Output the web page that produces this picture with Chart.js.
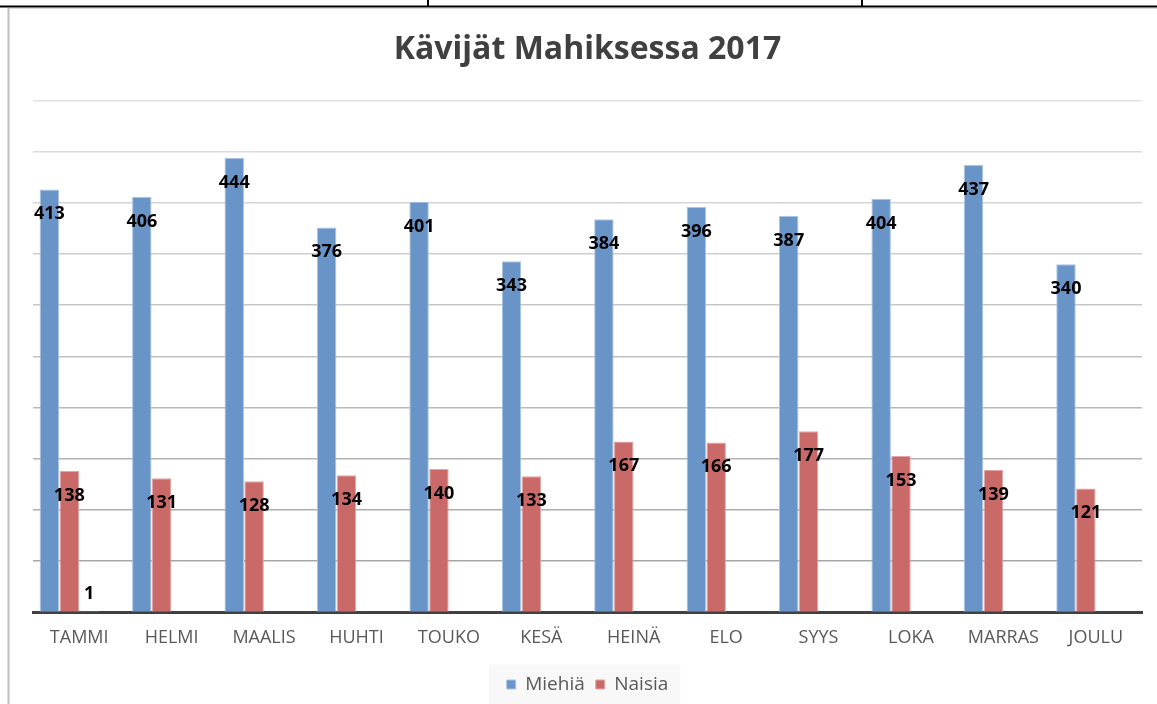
<!DOCTYPE html>
<html lang="fi">
<head>
<meta charset="utf-8">
<title>Kävijät Mahiksessa 2017</title>
<script src="https://cdn.jsdelivr.net/npm/chart.js@4/dist/chart.umd.min.js"></script>
<style>
  html, body { margin: 0; padding: 0; background: #ffffff; }
  #wrap { position: relative; width: 1157px; height: 704px; }
</style>
</head>
<body>
<div id="wrap"><canvas id="kavijat"></canvas></div>
<script>
// Kuukaudet ja kävijämäärät
const kuukaudet = ["TAMMI", "HELMI", "MAALIS", "HUHTI", "TOUKO", "KESÄ", "HEINÄ", "ELO", "SYYS", "LOKA", "MARRAS", "JOULU"];
const miehia = [413, 406, 444, 376, 401, 343, 384, 396, 387, 404, 437, 340];
const naisia = [138, 131, 128, 134, 140, 133, 167, 166, 177, 153, 139, 121];
// Taulukossa on kaksi ylimääräistä saraketta, joita ei näytetä selitteessä
const sarake3 = [1, null, null, null, null, null, null, null, null, null, null, null];
const sarake4 = [null, null, null, null, null, null, null, null, null, null, null, null];

const FONT = "'Open Sans', 'DejaVu Sans', sans-serif";

// Taustaviivat (taulukon solut + kaavion kehys) ja selitteen harmaa laatikko
const taustaPlugin = {
  id: "tausta",
  beforeDraw(chart) {
    const c = chart.ctx;
    c.save();
    c.fillStyle = "#000000";
    c.fillRect(0, 5.5, chart.width, 2);
    c.fillRect(427, 0, 2, 7);
    c.fillRect(861, 0, 2, 7);
    c.fillStyle = "#d9d9d9";
    c.fillRect(8, 8, chart.width - 8, 1);
    c.fillStyle = "#bfbfbf";
    c.fillRect(7.5, 8, 2, chart.height - 8);

    const boxes = chart.legend.legendHitBoxes;
    if (boxes && boxes.length) {
      const x1 = Math.min(...boxes.map((b) => b.left)) - 18;
      const x2 = Math.max(...boxes.map((b) => b.left + b.width)) + 12;
      const yc = boxes[0].top + boxes[0].height / 2;
      c.fillStyle = "#f8f8f8";
      c.fillRect(x1, yc - 20, x2 - x1, 40);
    }
    c.restore();
  },
  // Arvot pylväiden yläpään sisäpuolelle, matalille pylväille yläpuolelle
  afterDatasetsDraw(chart) {
    const c = chart.ctx;
    c.save();
    c.font = "bold 18px " + FONT;
    c.fillStyle = "#000000";
    c.textAlign = "center";
    c.textBaseline = "alphabetic";
    [0, 1, 2].forEach((i) => {
      const meta = chart.getDatasetMeta(i);
      meta.data.forEach((bar, j) => {
        const v = chart.data.datasets[i].data[j];
        if (v === null || v === undefined) return;
        const korkeus = bar.base - bar.y;
        const y = korkeus > 40 ? bar.y + 30 : bar.y - 12.5;
        c.fillText(String(v), bar.x, y);
      });
    });
    c.restore();
  },
};

function gridVari(ctx) {
  const v = ctx.tick.value;
  if (v === 0) return "rgba(0,0,0,0)";
  const g = Math.round(166 + ((v - 50) / 450) * 60);
  return `rgb(${g},${g},${g})`;
}

new Chart(document.getElementById("kavijat"), {
  type: "bar",
  data: {
    labels: kuukaudet,
    datasets: [
      {
        label: "Miehiä",
        data: miehia,
        backgroundColor: "#6994c7",
        borderColor: "#a9c4e4",
        borderWidth: 1,
      },
      {
        label: "Naisia",
        data: naisia,
        backgroundColor: "#ca6a68",
        borderColor: "#e3a6a4",
        borderWidth: 1,
      },
      {
        label: "Sarake3",
        data: sarake3,
        backgroundColor: "#9bbb59",
        borderWidth: 0,
      },
      {
        label: "Sarake4",
        data: sarake4,
        backgroundColor: "#8064a2",
        borderWidth: 0,
      },
    ],
  },
  options: {
    responsive: true,
    maintainAspectRatio: false,
    animation: false,
    layout: { padding: { left: 33, right: 15, top: 0, bottom: 0 } },
    datasets: {
      bar: { categoryPercentage: 0.86, barPercentage: 0.98 },
    },
    scales: {
      x: {
        grid: { display: false, drawTicks: false },
        border: { display: true, color: "#404040", width: 3 },
        ticks: {
          color: "#595959",
          font: { family: FONT, size: 18 },
          padding: 15,
        },
      },
      y: {
        min: 0,
        max: 500,
        ticks: { display: false, stepSize: 50 },
        border: { display: false },
        grid: { color: gridVari, lineWidth: 1.5, drawTicks: false },
      },
    },
    plugins: {
      title: {
        display: true,
        text: "Kävijät Mahiksessa 2017",
        color: "#404040",
        font: { family: FONT, size: 32, weight: "bold" },
        padding: { top: 31, bottom: 31 },
      },
      legend: {
        position: "bottom",
        labels: {
          color: "#595959",
          font: { family: FONT, size: 19 },
          boxWidth: 9,
          boxHeight: 9,
          padding: 11,
          filter: (item) => item.datasetIndex < 2,
        },
      },
      tooltip: { enabled: false },
    },
  },
  plugins: [taustaPlugin],
});
</script>
</body>
</html>
